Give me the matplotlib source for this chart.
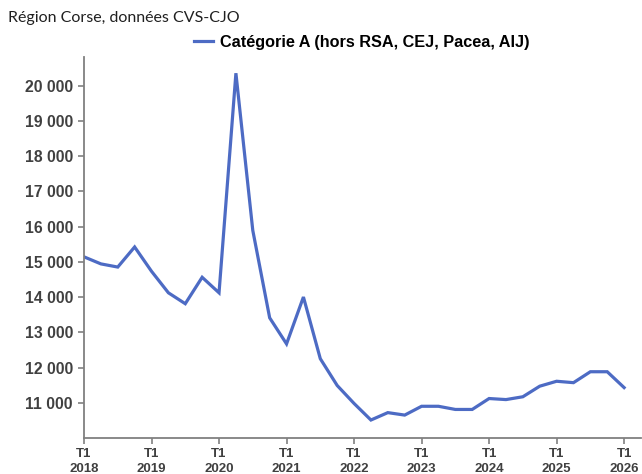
import matplotlib
matplotlib.use('Agg')
import matplotlib.pyplot as plt
from matplotlib.ticker import FuncFormatter

# quarterly values, 2018 T1 -> 2026 T1
years = [2018, 2019, 2020, 2021, 2022, 2023, 2024, 2025, 2026]
valeurs = [15140, 14940, 14850, 15420, 14730, 14120, 13810, 14560,
           14120, 20350, 15890, 13410, 12670, 14000, 12250, 11490,
           10980, 10510, 10720, 10650, 10900, 10900, 10810, 10810,
           11120, 11090, 11170, 11470, 11610, 11570, 11880, 11880,
           11430]
serie_label = 'Catégorie A (hors RSA, CEJ, Pacea, AIJ)'
titre = 'Région Corse, données CVS-CJO'

fig = plt.figure(figsize=(6.42, 4.74), dpi=100)
ax = fig.add_axes([84/642, 1 - 438/474, (641-84)/642, (438-57)/474])

x = list(range(len(valeurs)))
line, = ax.plot(x, valeurs, color='#4D6BC4', linewidth=2.3, solid_joinstyle='miter')

ax.set_xlim(0, 33)
ax.set_ylim(10000, 20810)

ax.set_xticks([4*i for i in range(len(years))])
ax.set_xticklabels(['T1\n%d' % y for y in years], fontsize=9.5, fontweight='bold',
                   color='#404040', family='Liberation Sans', linespacing=1.35)
ax.set_yticks(range(11000, 20001, 1000))
ax.yaxis.set_major_formatter(FuncFormatter(lambda v, p: '{:,.0f}'.format(v).replace(',', ' ')))
for lab in ax.get_yticklabels():
    lab.set_fontsize(11.3)
    lab.set_fontweight('bold')
    lab.set_color('#404040')
    lab.set_family('Liberation Sans')

for s in ['top', 'right']:
    ax.spines[s].set_visible(False)
for s in ['left', 'bottom']:
    ax.spines[s].set_color('#808080')
    ax.spines[s].set_linewidth(1.3)
ax.tick_params(axis='both', colors='#808080', length=4, width=1.2, direction='out')
ax.tick_params(axis='y', labelcolor='#404040', pad=4)
ax.tick_params(axis='x', labelcolor='#404040', pad=3)

fig.text(8/642, 1 - 18/474, titre, fontsize=11.5, family='Lato', va='center', ha='left', color='#202020')

fig.legend([line], [serie_label], loc='center left', bbox_to_anchor=(179/642, 1 - 42/474),
           frameon=False, handlelength=1.2, handletextpad=0.4,
           prop={'family': 'Liberation Sans', 'weight': 'bold', 'size': 11.7})

fig.savefig('out.png', dpi=100)
